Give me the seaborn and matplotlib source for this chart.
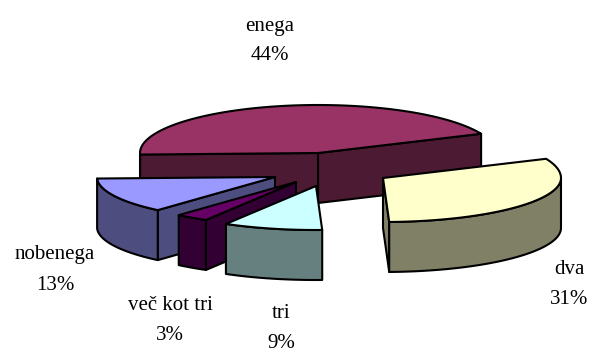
import numpy as np
import matplotlib
matplotlib.use("Agg")
import matplotlib.pyplot as plt
import seaborn as sns

categories = ["enega", "nobenega", "več kot tri", "tri", "dva"]
values = [44, 13, 3, 9, 31]

top_colors = ["#993366", "#9999FF", "#660066", "#CCFFFF", "#FFFFCC"]
side_colors = ["#4D1A33", "#4D4D80", "#330033", "#668080", "#808066"]

# layout (pixel space of the figure)
slice_tips = [(318, 153), (275, 177), (296, 182), (316, 186), (383, 178)]
label_pos = [(270, 41), (55, 270), (170, 321), (281, 329), (569, 284)]
RX, RY_BACK, RY_FRONT, DEPTH = 178, 48, 44, 50
START = 23.6

sns.set_theme(style="white")
plt.rcParams["font.family"] = ["Liberation Serif", "DejaVu Sans"]

fig, ax = plt.subplots(figsize=(5.9, 3.52), dpi=100)
ax.set_position([0, 0, 1, 1])
ax.set_xlim(0, 590)
ax.set_ylim(352, 0)
ax.axis("off")


def pt(tip, deg):
    a = np.radians(deg)
    s = np.sin(a)
    return tip[0] + RX * np.cos(a), tip[1] - np.where(s > 0, RY_BACK, RY_FRONT) * s


def face(xs, ys, color, z):
    ax.fill(xs, ys, facecolor=color, edgecolor="black", lw=1.5, joinstyle="round", zorder=z)


angles = np.concatenate([[START], START + np.cumsum(values) * 3.6])
draw_order = {"enega": 1, "nobenega": 2, "dva": 3, "več kot tri": 4, "tri": 5}

for i, name in enumerate(categories):
    a0, a1 = angles[i], angles[i + 1]
    tip = slice_tips[i]
    z = draw_order[name] * 10
    th = np.linspace(a0, a1, 80)
    x, y = pt(tip, th)

    # cut walls facing the viewer
    for edge, visible in ((a0, np.cos(np.radians(a0)) > 0), (a1, np.cos(np.radians(a1)) < 0)):
        if visible:
            ex, ey = pt(tip, edge)
            face([tip[0], ex, ex, tip[0]],
                 [tip[1], ey, ey + DEPTH, tip[1] + DEPTH], side_colors[i], z)

    # outer rim: only the front half of the ellipse is seen
    front = np.sin(np.radians(th)) <= 0
    if front.any():
        fx, fy = x[front], y[front]
        face(np.r_[fx, fx[::-1]], np.r_[fy, fy[::-1] + DEPTH], side_colors[i], z + 1)

    # top
    face(np.r_[tip[0], x], np.r_[tip[1], y], top_colors[i], z + 2)

    lx, ly = label_pos[i]
    ax.text(lx, ly - 15, name, ha="center", va="center", fontsize=15, color="black", zorder=100)
    ax.text(lx, ly + 15, f"{values[i]}%", ha="center", va="center", fontsize=15, color="black", zorder=100)

fig.savefig("out.png", dpi=100, facecolor="white")
